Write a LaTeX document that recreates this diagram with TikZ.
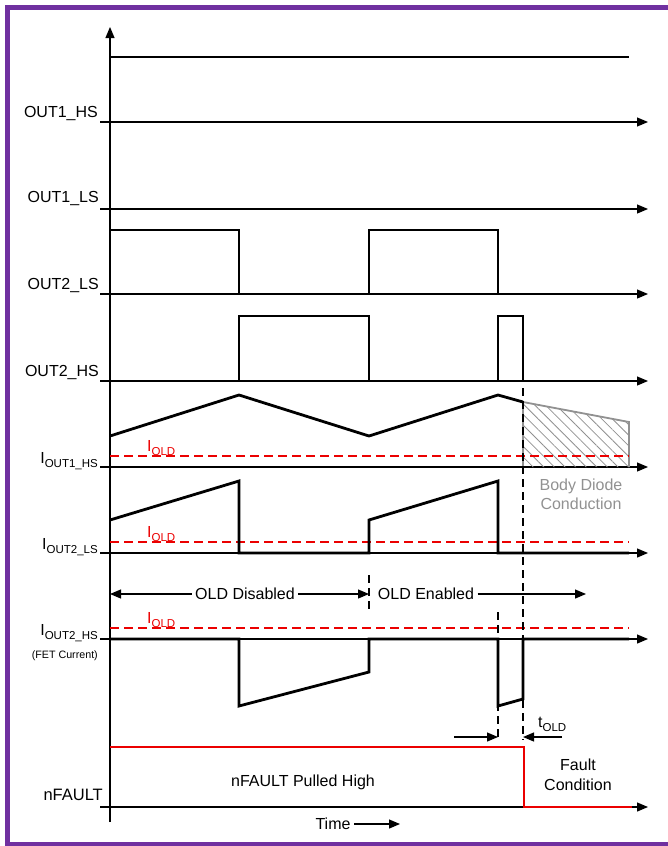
\documentclass[tikz,border=0pt]{standalone}
\usepackage{fontspec}
\setmainfont{Liberation Sans}
\usetikzlibrary{arrows.meta,patterns.meta}

\definecolor{tipurple}{RGB}{112,48,160}
\definecolor{diodegray}{RGB}{145,145,145}
\definecolor{oldred}{RGB}{235,0,0}

\newcommand{\lsub}[1]{\raisebox{-4pt}{\fontsize{11.5}{12}\selectfont #1}}

\tikzset{
  axisline/.style={line width=1.2pt, -{Triangle[length=11pt,width=9pt]}},
  sig/.style={line width=2.8pt, line join=miter},
  oldline/.style={oldred, line width=1.2pt, dash pattern=on 9pt off 5pt},
  marker/.style={line width=1.1pt, dash pattern=on 8pt off 5pt},
  arr/.style={line width=1.2pt, -{Triangle[length=11pt,width=9pt]}},
  lbl/.style={anchor=base east, inner sep=0pt},
  oldlbl/.style={anchor=base west, inner sep=0pt, text=oldred},
}

\begin{document}
\begin{tikzpicture}[x=1pt, y=-1pt, font=\fontsize{16}{19}\selectfont]

  \useasboundingbox (0,0) rectangle (668,846);
  \draw[tipurple, line width=4.5pt] (668,7.5) -- (7.5,7.5) -- (7.5,844) -- (668,844);

  \draw[arr] (110,822) -- (110,27);

  \foreach \y in {122,209,294,381,467,553,639,807}{
    \draw[axisline] (100,\y) -- (648,\y);
  }

  \node[lbl] (out1hs) at (98,117) {OUT1\_HS};
  \node[lbl] (out1ls) at (99,202) {OUT1\_LS};
  \node[lbl] (out2ls) at (99,289) {OUT2\_LS};
  \node[lbl] (out2hs) at (99,376) {OUT2\_HS};
  \node[lbl] (iout1hs) at (98,463) {I\lsub{OUT1\_HS}};
  \node[lbl] (iout2ls) at (98,549) {I\lsub{OUT2\_LS}};
  \node[lbl] (iout2hs) at (98,635) {I\lsub{OUT2\_HS}};
  \node[lbl, font=\fontsize{10.7}{12}\selectfont] (fet) at (98,658) {(FET Current)};
  \node[lbl, font=\fontsize{16.5}{19}\selectfont] (nfault) at (103,800) {nFAULT};

  \draw[sig] (110,57) -- (629,57);
  \draw[sig] (110,209) -- (629,209);
  \draw[sig] (110,230) -- (239,230) -- (239,294) -- (369,294) -- (369,230)
    -- (498,230) -- (498,294) -- (629,294);
  \draw[sig] (110,381) -- (239,381) -- (239,316) -- (369,316) -- (369,381)
    -- (498,381) -- (498,316) -- (523,316) -- (523,381) -- (629,381);

  \fill[pattern={Lines[angle=-45,distance=7.5pt,line width=0.8pt]}, pattern color=diodegray]
    (523,402) -- (629,422) -- (629,467) -- (523,467) -- cycle;
  \draw[diodegray, line width=1.8pt] (523,467) -- (523,402) -- (629,422) -- (629,467);
  \node[text=diodegray, align=center] (diode) at (581,494) {Body Diode\\Conduction};

  \foreach \y in {456,542,628}{
    \draw[oldline] (110,\y) -- (629,\y);
  }
  \node[oldlbl] (iold1) at (147,451) {I\lsub{OLD}};
  \node[oldlbl] (iold2) at (147,537) {I\lsub{OLD}};
  \node[oldlbl] (iold3) at (147,623) {I\lsub{OLD}};

  \draw[sig] (110,436) -- (239,395) -- (369,436) -- (498,395) -- (523,402);
  \draw[sig] (110,520) -- (239,481) -- (239,553) -- (369,553) -- (369,520)
    -- (498,481) -- (498,553) -- (629,553);
  \draw[sig] (110,639) -- (239,639) -- (239,706) -- (369,672) -- (369,639)
    -- (498,639) -- (498,706) -- (523,699) -- (523,639) -- (629,639);

  \draw[marker] (369,575) -- (369,613);
  \draw[marker] (498,612) -- (498,740);
  \draw[marker] (523,388) -- (523,740);

  \coordinate (start) at (110,594);
  \coordinate (enable) at (369,594);
  \coordinate (later) at (586,594);
  \node (disabled) at (245,594) {OLD Disabled};
  \node (enabled) at (426,594) {OLD Enabled};
  \draw[arr] (disabled.west) -- (start);
  \draw[arr] (disabled.east) -- (enable);
  \draw[arr] (enabled.east) -- (later);

  \coordinate (tlft) at (498,737);
  \coordinate (trgt) at (523,737);
  \node[anchor=base west, inner sep=0pt] (told) at (538,727) {t\lsub{OLD}};
  \draw[arr] (454,737) -- (tlft);
  \draw[arr] (562,737) -- (trgt);

  \draw[oldred, line width=2.6pt] (110,747) -- (524,747) -- (524,807) -- (632,807);
  \node (pulled) at (303,782) {nFAULT Pulled High};
  \node[align=center, font=\fontsize{16}{20}\selectfont] (fault) at (578,775) {Fault\\Condition};

  \node (time) at (333,824) {Time};
  \coordinate (timeend) at (400,824);
  \draw[arr] (time.east) -- (timeend);

\end{tikzpicture}
\end{document}
